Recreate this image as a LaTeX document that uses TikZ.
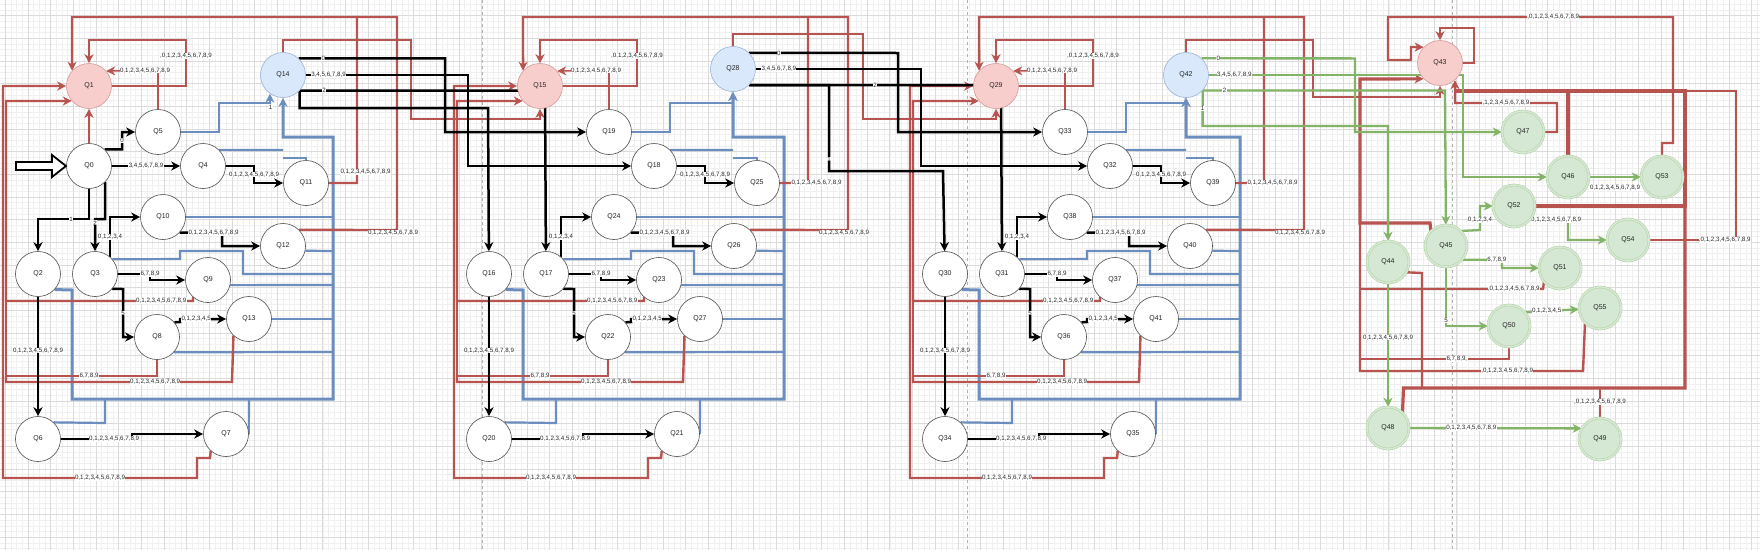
\documentclass[tikz,border=0pt]{standalone}
\usepackage{fontspec}
\setmainfont{Liberation Sans}
\usetikzlibrary{arrows.meta,calc}
\definecolor{rline}{HTML}{B85450}
\definecolor{rfill}{HTML}{F8CECC}
\definecolor{bline}{HTML}{6C8EBF}
\definecolor{bfill}{HTML}{DAE8FC}
\definecolor{gline}{HTML}{82B366}
\definecolor{gfill}{HTML}{D5E8D4}
\pgfdeclarelayer{gridl}
\pgfdeclarelayer{edges}
\pgfsetlayers{gridl,edges,main}
\newcommand{\alld}{0,1,2,3,4,5,6,7,8,9}
\newcommand{\qlab}[1]{\pgfmathtruncatemacro\qtmp{#1+14*\s}Q\qtmp}
\tikzset{
 st/.style={circle,draw=black!70,line width=0.6pt,fill=white,minimum size=45pt,inner sep=0pt,font=\fontsize{7}{8}\selectfont,text=black!85},
 rst/.style={st,fill=rfill,draw=rline!60},
 bst/.style={st,fill=bfill,draw=bline!70},
 gst/.style={st,fill=gfill,draw=gline!60,double=gfill,double distance=1.6pt,line width=0.5pt,minimum size=42pt},
 lbl/.style={font=\fontsize{6.2}{7}\selectfont,fill=white,inner sep=0.3pt,text=black!85},
 arr/.style={-{Stealth[length=9pt,width=9pt,inset=2.8pt]}},
 blk/.style={draw=black,line width=2.5pt},
 redl/.style={draw=rline,line width=2.4pt},
 redthick/.style={draw=rline,line width=3.2pt},
 bluel/.style={draw=bline,line width=2.2pt},
 bluebus/.style={draw=bline,line width=3pt},
 grn/.style={draw=gline,line width=2.3pt}
}
\begin{document}
\begin{tikzpicture}[x=1pt,y=-1pt]
\useasboundingbox (0,0) rectangle (1760,549);
\begin{pgfonlayer}{gridl}
 \fill[white] (0,0) rectangle (1760,549);
 \begin{scope}[y=1pt,xshift=5.2pt,yshift=-15.4pt]
  \draw[gray!12,line width=0.4pt,step=5.67] (-30,-590) grid (1780,30);
  \draw[gray!28,line width=0.5pt,step=22.68] (-30,-590) grid (1780,30);
 \end{scope}
 \foreach \px in {482,967,1452} \draw[gray!60,dashed,line width=0.5pt] (\px,0) -- (\px,549);
\end{pgfonlayer}

% ---------- three similar sections ----------
\foreach \s/\dx/\bx/\by/\ba/\ly in {0/0/283/75/235/11, 1/451/282/69/270/0, 2/907/279/75/270/0}{
\begin{scope}[xshift=\dx pt]
 \node[rst] (q\s-1) at (89,86) {\qlab{1}};
 \node[bst] (q\s-14) at (\bx,\by) {\qlab{14}};
 \node[st] (q\s-5) at (158,132) {\qlab{5}};
 \node[st] (q\s-4) at (203,166) {\qlab{4}};
 \node[st] (q\s-11) at (306,183) {\qlab{11}};
 \node[st] (q\s-10) at (163,217) {\qlab{10}};
 \node[st] (q\s-12) at (283,246) {\qlab{12}};
 \node[st] (q\s-2) at (38,274) {\qlab{2}};
 \node[st] (q\s-3) at (95,274) {\qlab{3}};
 \node[st] (q\s-9) at (208,280) {\qlab{9}};
 \node[st] (q\s-13) at (249,319) {\qlab{13}};
 \node[st] (q\s-8) at (157,337) {\qlab{8}};
 \node[st] (q\s-6) at (38,439) {\qlab{6}};
 \node[st] (q\s-7) at (226,434) {\qlab{7}};
 \begin{pgfonlayer}{edges}
  % blue
  \draw[bluel,arr] (q\s-5) -- (219,132) -- (219,103) -| (q\s-14.\ba);
  \draw[bluebus,arr] (q\s-2.-43) -- (72,290) -- (72,399) -- (333,399) -- (333,137) -- (\bx,137) -- (q\s-14);
  \draw[bluel] (q\s-6.47) -- (105,423) -- (105,399);
  \draw[bluel] (q\s-7.east) -- (249,399);
  \draw[bluel] (q\s-8.-42) -- (333,352);
  \draw[bluel] (q\s-13.east) -- (333,319);
  \draw[bluel] (q\s-9.-13) -- (333,285);
  \draw[bluel] (q\s-3.40) -- (180,259) -- (180,251) -- (243,251) -- (243,274) -- (333,274);
  \draw[bluel] (q\s-12.-12) -- (333,251);
  \draw[bluel] (q\s-10.east) -- (333,217);
  \draw[bluel] (q\s-11.north) -- (306,158) -- (\bx,158);
  \draw[bluel] (q\s-4.45) -- (\bx,150);
  % red
  \draw[redl,arr] (q\s-1.east) -- (186,86) -- node[lbl,pos=.65]{,\alld} (186,40) -- (89,40) -- (q\s-1.north);
  \draw[redl,line width=1.6pt,arr] (q\s-5.north) -- (158,70) -- node[lbl,pos=.25]{\alld} (q\s-1.41);
  \draw[redl,arr] (q\s-11.east) -- (357,183) node[lbl,anchor=west,xshift=-18pt,yshift=\ly pt]{\alld} -- (357,17) -- (72,17) -- (q\s-1.138);
  \draw[redl] (q\s-12.45) -- (397,230) node[lbl,xshift=-4pt,yshift=-3pt]{\alld} -- (397,17) -- (357,17);
  \draw[redl,arr] (q\s-7.228) -- (210,458) -- (197,458) -- (197,478) -- node[lbl,pos=.5]{\alld} (3,478) -- (3,86) -- (q\s-1);
  \draw[redl,arr] (q\s-9.229) -- (193,301) -- node[lbl,pos=.17]{\alld} (6,301) -- (6,101) -- (q\s-1.221);
  \draw[redl] (q\s-8.south) -- (157,376) -- node[lbl,pos=.45]{6,7,8,9} (6,376) -- (6,301);
  \draw[redl] (q\s-13.227) -- (232,382) -- node[lbl,pos=.34]{\alld} (6,382) -- (6,376);
  % black
  \draw[blk,arr] (q\s-4) -- (254,166) -- node[lbl]{\alld} (254,183) -- (q\s-11);
  \draw[blk,arr] (q\s-3.49) |- node[lbl,pos=.25]{0,1,2,3,4} (q\s-10);
  \draw[blk,arr] (q\s-10.-43) -- node[lbl,pos=.8]{\alld} (222,233) -- (222,246) -- (q\s-12);
  \draw[blk,arr] (q\s-3) -- (150,274) node[lbl]{6,7,8,9} -- (150,280) -- (q\s-9);
  \draw[blk,arr] (q\s-3.-41) -- (123,289) -- node[lbl]{5} (123,337) -- (q\s-8);
  \draw[blk,arr] (q\s-8.40) -- (180,322) -- (180,319) -- node[lbl,pos=.35]{0,1,2,3,4,5} (q\s-13);
  \draw[blk,arr] (q\s-2) -- node[lbl,pos=.45]{\alld} (q\s-6);
  \draw[blk,arr] (q\s-6) -- node[lbl,pos=.75]{\alld} (132,439) -- (132,434) -- (q\s-7);
 \end{pgfonlayer}
\end{scope}
}

% ---------- start state ----------
\node[st] (q0) at (89,166) {Q0};
\draw[line width=1.8pt,fill=white] (16,162) -- (52,162) -- (52,155) -- (66,166) -- (52,177) -- (52,170) -- (16,170) -- cycle;

% ---------- green section nodes ----------
\node[rst] (q43) at (1440,63) {Q43};
\node[gst] (q47) at (1523,132) {Q47};
\node[gst] (q46) at (1568,177) {Q46};
\node[gst] (q53) at (1662,177) {Q53};
\node[gst] (q52) at (1514,206) {Q52};
\node[gst] (q54) at (1628,240) {Q54};
\node[gst] (q45) at (1446,246) {Q45};
\node[gst] (q44) at (1388,262) {Q44};
\node[gst] (q51) at (1560,268) {Q51};
\node[gst] (q55) at (1600,308) {Q55};
\node[gst] (q50) at (1509,326) {Q50};
\node[gst] (q48) at (1388,428) {Q48};
\node[gst] (q49) at (1600,439) {Q49};

\begin{pgfonlayer}{edges}
% Q0 edges
\draw[redl,arr] (q0) -- (q0-1);
\draw[blk,arr] (q0.47) -- (122,149.4) -- node[lbl]{0} (122,132) -- (q0-5);
\draw[blk,arr] (q0) -- node[lbl]{3,4,5,6,7,8,9} (q0-4);
\draw[blk,arr] (q0.south) -- (89,219) -- node[lbl,pos=.35]{1} (38,219) -- (q0-2);
\draw[blk,arr] (q0.-45) -- (105,219) -- (95,219) -- node[lbl,pos=.12]{2} (q0-3);

% section 1 -> 2
\draw[redl,arr] (q0-14.north) -- (283,40) -- (411,40) -- (411,119) -- (540,119) -- (q1-1);
\draw[blk,arr] (q0-14.47) -- node[lbl,pos=.17]{0} (445,58.4) -- (445,132) -- (q1-5);
\draw[blk,arr] (q0-14) -- node[lbl,pos=.14]{3,4,5,6,7,8,9} (468,75) -- (468,166) -- (q1-4);
\draw[blk,arr] (q0-14.-43) -- node[lbl,pos=.1]{2} (545,90.5) -- (q1-3);
\draw[blk,arr] (q0-14.-43) -- (299.6,108) node[lbl,xshift=-29pt,yshift=1pt]{1} -- (488,108) -- (q1-2);

% section 2 -> 3
\draw[redl,arr] (q1-14.north) -- (733,34) -- (863,34) -- (863,119) -- (996,119) -- (q2-1);
\draw[blk,arr] (q1-14.45) -- node[lbl,pos=.2]{0} (898,53) -- (898,132) -- (q2-5);
\draw[blk,arr] (q1-14) -- node[lbl,pos=.14]{3,4,5,6,7,8,9} (921,69) -- (921,166) -- (q2-4);
\draw[blk,arr] (q1-14.-45) -- node[lbl,pos=.5]{2} (1001,85) -- (q2-3);
\draw[blk,arr] (q1-14.-45) -- (829,85) -- node[lbl,pos=.86]{1} (829,171) -- (943,171) -- (q2-2);

% section 3 -> 4
\draw[redl,arr] (q2-14.north) -- (1186,40) -- (1313,40) -- (1313,97) -- (1440,97) -- (q43);

% green section: red edges
\draw[redl,arr] (q43.east) -- (1474,63) -- (1474,28) -- (1440,28) -- (q43);
\draw[redl,arr] (q53) -- (1662,143) -- (1673,143) -- (1673,17) -- node[lbl,pos=.42]{,\alld} (1388,17) -- (1388,60) -- (1411,60) -- (1411,47) -- (q43.136);
\draw[redl,arr] (q47) -- (1557,132) -- (1557,103) -- node[lbl,pos=.5]{,1,2,3,4,5,6,7,8,9} (1455,103) -- (q43.-49);
\draw[redthick] (q46) -- (1568,91) -- (1455,91);
\draw[redl] (q54) -- node[lbl,pos=.87]{,\alld} (1736,240) -- (1736,91) -- (1685,91);
\draw[redthick] (q52) -- (1685,206) -- (1685,91) -- (1568,91);
\draw[redthick] (q48.47) -- (1403.5,388) -- (1685,388) -- (1685,206);
\draw[redl] (q49) -- node[lbl,pos=.54]{,\alld} (1600,388);
\draw[redl] (q44.-29) -- (1422,273) -- (1422,388);
\draw[redthick,arr] (q45.135) -- (1430,223) -- (1360,223) -- (1360,79) -- (q43.224);
\draw[redl] (q51.221) -- (1543,289) -- node[lbl,pos=.16]{,\alld} (1360,289);
\draw[redl] (q50) -- (1509,359) -- node[lbl,pos=.35]{6,7,8,9,} (1360,359);
\draw[redl] (q55.225) -- (1583,371) -- node[lbl,pos=.34]{,\alld} (1360,371) -- (1360,223);

% green edges
\draw[grn,arr] (q2-14.47) -- node[lbl,pos=.11]{0} (1355,58.4) -- (1355,132) -- (q47);
\draw[grn,arr] (q2-14) -- node[lbl,pos=.1]{3,4,5,6,7,8,9} (1463,75) -- (1463,177) -- (q46);
\draw[grn,arr] (q2-14.-43) -- node[lbl,pos=.09]{2} (1445,90.5) -- (q45);
\draw[grn,arr] (q2-14.-43) -- node[lbl]{1} (1202.6,126) -- (1388,126) -- (q44);
\draw[grn,arr] (q46) -- node[lbl,yshift=-11pt]{\alld} (q53);
\draw[grn,arr] (q45.45) -- (1480,230) -- node[lbl,pos=.42]{0,1,2,3,4} (1480,206) -- (q52);
\draw[grn,arr] (q52.-40) -- node[lbl,pos=.5,xshift=7pt]{\alld} (1568,220) -- (1568,240) -- (q54);
\draw[grn,arr] (q45.-40) -- node[lbl,pos=.87]{6,7,8,9} (1502,260) -- (1502,268) -- (q51);
\draw[grn,arr] (q45) -- node[lbl,pos=.91]{5} (1446,326) -- (q50);
\draw[grn,arr] (q50.40) -- node[lbl,pos=.4]{0,1,2,3,4,5} (q55);
\draw[grn,arr] (q44) -- node[lbl,pos=.44]{\alld} (q48);
\draw[grn,arr] (q48) -- node[lbl,pos=.36]{\alld} (q49.150);
\end{pgfonlayer}
\end{tikzpicture}
\end{document}
